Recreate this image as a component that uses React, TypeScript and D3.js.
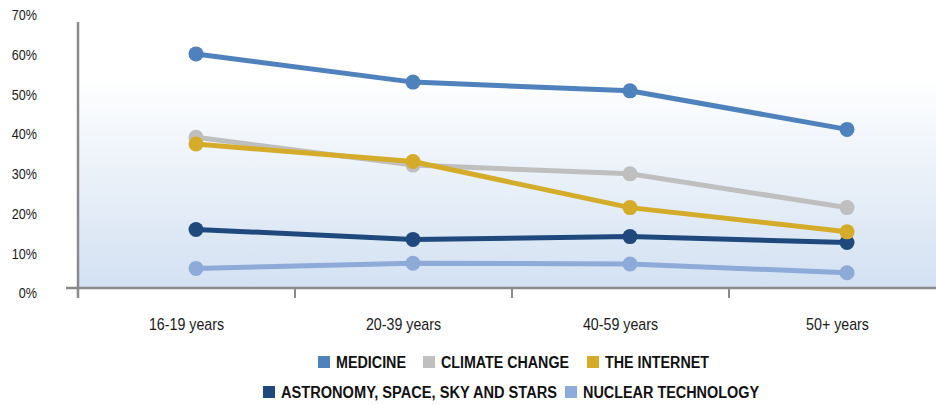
import React from "react";
import * as d3 from "d3";

const categories = ["16-19 years", "20-39 years", "40-59 years", "50+ years"];
const seriesNames = ["MEDICINE", "CLIMATE CHANGE", "THE INTERNET", "ASTRONOMY, SPACE, SKY AND STARS", "NUCLEAR TECHNOLOGY"];
const medicine = [60.2, 53.1, 50.9, 41.2];
const climateChange = [39.2, 32.2, 30.0, 21.5];
const theInternet = [37.5, 33.1, 21.5, 15.4];
const astronomy = [16.0, 13.5, 14.2, 12.7];
const nuclear = [6.2, 7.5, 7.3, 5.1];
const yTicks = [0, 10, 20, 30, 40, 50, 60, 70];

const colors = ["#4f81bd", "#bfbfbf", "#d4ac2a", "#1f497d", "#8eaad8"];
const seriesValues = [medicine, climateChange, theInternet, astronomy, nuclear];
const drawOrder = [4, 3, 1, 2, 0];

const W = 936;
const H = 405;
const FONT = "'Liberation Sans', Arial, sans-serif";

export default function App() {
  const left = 78;
  const bandW = 217;
  const x = d3.scaleBand<string>().domain(categories).range([left, left + bandW * 4]);
  const xp = d3.scalePoint<string>().domain(categories).range([196, 847]);
  const y = d3.scaleLinear().domain([0, 70]).range([293, 15]);
  const baseY = y(0) - 5;
  const plotTop = 22;

  const line = d3
    .line<number>()
    .x((_, i) => xp(categories[i]) as number)
    .y((d) => y(d));

  const legendRows = [
    [
      { i: 0, sx: 318, tw: 70 },
      { i: 1, sx: 423, tw: 128 },
      { i: 2, sx: 587, tw: 104 },
    ],
    [
      { i: 3, sx: 263, tw: 276 },
      { i: 4, sx: 565, tw: 176 },
    ],
  ];
  const legendY = [362, 392];

  return (
    <svg
      width={W}
      height={H}
      style={{ position: "absolute", left: 0, top: 0, background: "#fff" }}
    >
      <defs>
        <linearGradient id="bg" x1="0" y1="0" x2="0" y2="1">
          <stop offset="0" stopColor="#ffffff" />
          <stop offset="0.2" stopColor="#ffffff" />
          <stop offset="1" stopColor="#d3e1f2" />
        </linearGradient>
      </defs>
      <rect x={left} y={plotTop} width={W - left} height={baseY - plotTop} fill="url(#bg)" />

      {yTicks.map((t) => (
        <text
          key={t}
          transform={`translate(37,${y(t)}) scale(0.84,1)`}
          dy="0.35em"
          textAnchor="end"
          fontFamily={FONT}
          fontSize={15}
          fill="#1a1a1a"
        >
          {t}%
        </text>
      ))}

      <line x1={66} x2={W} y1={baseY} y2={baseY} stroke="#8a8a8a" strokeWidth={2.5} />
      <line x1={left} x2={left} y1={plotTop} y2={baseY + 10} stroke="#8a8a8a" strokeWidth={2.5} />
      {categories.slice(1).map((c) => (
        <line
          key={c}
          x1={x(c) as number}
          x2={x(c) as number}
          y1={baseY}
          y2={baseY + 10}
          stroke="#8a8a8a"
          strokeWidth={2}
        />
      ))}
      {categories.map((c) => (
        <text
          key={c}
          transform={`translate(${(x(c) as number) + x.bandwidth() / 2},324) scale(0.89,1)`}
          dy="0.35em"
          textAnchor="middle"
          fontFamily={FONT}
          fontSize={16}
          fill="#1a1a1a"
        >
          {c}
        </text>
      ))}

      {drawOrder.map((si) => (
        <g key={si}>
          <path d={line(seriesValues[si]) as string} fill="none" stroke={colors[si]} strokeWidth={5} />
          {seriesValues[si].map((v, i) => (
            <circle key={i} cx={xp(categories[i]) as number} cy={y(v)} r={7.5} fill={colors[si]} />
          ))}
        </g>
      ))}

      {legendRows.map((row, ri) =>
        row.map(({ i, sx, tw }) => (
          <g key={i}>
            <rect x={sx} y={legendY[ri] - 6} width={12} height={12} fill={colors[i]} />
            <text
              x={sx + 18}
              y={legendY[ri]}
              dy="0.36em"
              fontFamily={FONT}
              fontWeight="bold"
              fontSize={16}
              textLength={tw}
              lengthAdjust="spacingAndGlyphs"
              fill="#111"
            >
              {seriesNames[i]}
            </text>
          </g>
        ))
      )}
    </svg>
  );
}
